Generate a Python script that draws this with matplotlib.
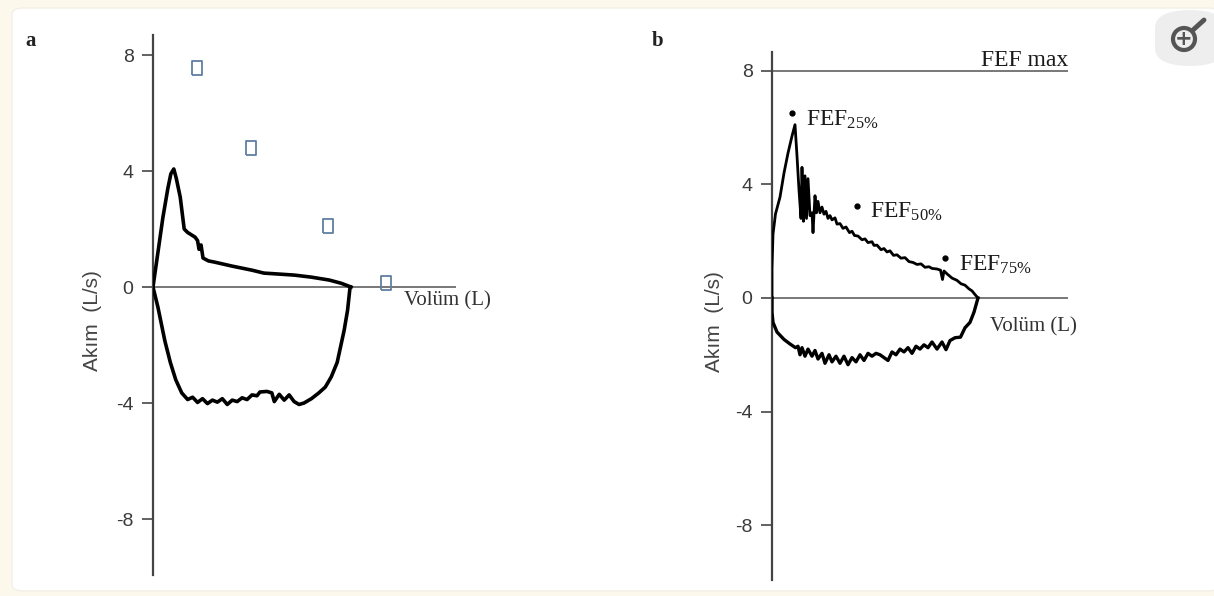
import matplotlib
matplotlib.use("Agg")
import matplotlib.pyplot as plt
from matplotlib.patches import FancyBboxPatch, Ellipse
from matplotlib.lines import Line2D

plt.rcParams['mathtext.fontset'] = 'custom'
plt.rcParams['mathtext.rm'] = 'Liberation Serif'
plt.rcParams['mathtext.it'] = 'Liberation Serif:italic'
plt.rcParams['axes.unicode_minus'] = False

# ---- data ----
y_ticks = [-8, -4, 0, 4, 8]

# panel a: expiration (upper part) and inspiration (lower part)
vol_a_exp = [0, 0.1, 0.2, 0.3, 0.36, 0.42, 0.47, 0.55, 0.63, 0.7, 0.85, 0.9,
             0.93, 0.97, 1.01, 1.12, 1.24, 1.6, 2.0, 2.24, 2.6, 2.86, 3.2,
             3.56, 3.8, 4.0]
flow_a_exp = [0, 1.2, 2.4, 3.4, 3.9, 4.07, 3.75, 3.1, 2.0, 1.88, 1.72, 1.6,
              1.3, 1.45, 1.0, 0.9, 0.86, 0.72, 0.58, 0.48, 0.44, 0.41, 0.34,
              0.24, 0.13, 0]
vol_a_insp = [0, 0.1, 0.24, 0.35, 0.46, 0.58, 0.7, 0.8, 0.9, 1.0, 1.1, 1.2,
              1.3, 1.4, 1.5, 1.6, 1.7, 1.8, 1.9, 2.0, 2.1, 2.16, 2.3, 2.4,
              2.45, 2.55, 2.65, 2.75, 2.85, 2.95, 3.05, 3.2, 3.35, 3.48, 3.6,
              3.72, 3.86, 3.93, 3.98]
flow_a_insp = [0, -0.7, -1.86, -2.6, -3.2, -3.65, -3.88, -3.8, -3.98, -3.85,
               -4.02, -3.9, -3.97, -3.85, -4.05, -3.9, -3.95, -3.82, -3.88,
               -3.72, -3.75, -3.62, -3.6, -3.65, -3.95, -3.7, -3.9, -3.72,
               -3.95, -4.05, -4.0, -3.85, -3.65, -3.45, -3.1, -2.6, -1.5,
               -0.8, 0]
# broken-image placeholders in panel a
sq_vol = [0.89, 1.98, 3.54, 4.71]
sq_flow = [7.55, 4.79, 2.1, 0.14]

# panel b
vol_b_exp = [0, 0, 0.02, 0.07, 0.16, 0.24, 0.32, 0.4, 0.46, 0.5, 0.54, 0.58,
             0.6, 0.63, 0.66, 0.69, 0.72, 0.76, 0.8, 0.82, 0.86, 0.89, 0.92,
             0.96, 1.0, 1.04, 1.08, 1.12, 1.16, 1.2, 1.26, 1.3, 1.36, 1.42,
             1.48, 1.55, 1.6, 1.65, 1.72, 1.8, 1.86, 1.92, 2.0, 2.04, 2.1,
             2.18, 2.24, 2.3, 2.36, 2.43, 2.5, 2.58, 2.66, 2.74, 2.82, 2.9,
             2.98, 3.06, 3.14, 3.2, 3.3, 3.37, 3.41, 3.44, 3.5, 3.6, 3.7,
             3.78, 3.86, 3.94, 4.0, 4.06, 4.12]
flow_b_exp = [0, 1.05, 2.25, 2.96, 3.55, 4.4, 5.1, 5.7, 6.1, 5.0, 3.8, 2.8,
              4.6, 2.7, 4.3, 2.8, 4.2, 2.9, 3.0, 2.3, 3.6, 3.0, 3.4, 3.0, 3.2,
              2.95, 3.05, 2.8, 2.9, 2.75, 2.82, 2.6, 2.62, 2.45, 2.5, 2.3,
              2.35, 2.2, 2.18, 2.05, 2.08, 1.95, 1.98, 1.85, 1.86, 1.7, 1.74,
              1.62, 1.66, 1.5, 1.52, 1.4, 1.42, 1.28, 1.25, 1.18, 1.2, 1.08,
              1.1, 1.04, 1.02, 0.98, 0.65, 0.95, 0.85, 0.7, 0.62, 0.5, 0.45,
              0.32, 0.25, 0.12, 0]
vol_b_insp = [0, 0, 0.02, 0.1, 0.24, 0.36, 0.47, 0.52, 0.56, 0.6, 0.66, 0.72,
              0.8, 0.86, 0.92, 1.0, 1.06, 1.14, 1.2, 1.28, 1.36, 1.44, 1.52,
              1.6, 1.68, 1.76, 1.84, 1.92, 2.0, 2.08, 2.16, 2.24, 2.32, 2.4,
              2.48, 2.56, 2.64, 2.72, 2.8, 2.88, 2.96, 3.04, 3.12, 3.2, 3.3,
              3.4, 3.48, 3.56, 3.66, 3.77, 3.86, 3.96, 4.04, 4.08, 4.12]
flow_b_insp = [0, -0.5, -0.86, -1.2, -1.46, -1.62, -1.75, -1.7, -2.0, -1.75,
               -2.05, -1.8, -2.05, -1.85, -2.15, -1.95, -2.3, -2.0, -2.25,
               -2.05, -2.3, -2.05, -2.35, -2.1, -2.25, -2.0, -2.2, -1.95,
               -2.05, -1.95, -2.0, -2.1, -2.2, -1.9, -2.0, -1.8, -1.9, -1.75,
               -1.95, -1.7, -1.8, -1.65, -1.75, -1.55, -1.8, -1.55, -1.82,
               -1.5, -1.4, -1.38, -1.05, -0.86, -0.5, -0.25, 0]
fef_vol = [0.4, 1.69, 3.46]
fef_flow = [6.5, 3.25, 1.4]
fef_labels = [r'FEF$_{25\%}$', r'FEF$_{50\%}$', r'FEF$_{75\%}$']
fef_max = 8

W, H = 1214, 596
fig = plt.figure(figsize=(W / 100, H / 100), dpi=100)
fig.patch.set_facecolor('#fdf8ec')


def px(x, y):
    # figure pixel position (from top-left) -> figure fraction
    return x / W, 1 - y / H


# white card behind the figure, plus the little zoom button
fig.patches.append(FancyBboxPatch(px(12, 591), (W - 6) / W, 583 / H,
                                  boxstyle='round,pad=0,rounding_size=0.01',
                                  transform=fig.transFigure, fc='white',
                                  ec='#f3efe6', lw=1, zorder=-2))
fig.patches.append(FancyBboxPatch(px(1155, 66), 70 / W, 56 / H,
                                  boxstyle='round,pad=0,rounding_size=0.03',
                                  transform=fig.transFigure, fc='#eeeeee',
                                  ec='none', zorder=-1))
fig.patches.append(Ellipse(px(1184, 39), 22 / W, 22 / H, transform=fig.transFigure,
                           fc='none', ec='#555555', lw=3, zorder=1))
fig.lines.append(Line2D([1193 / W, 1204 / W], [1 - 30 / H, 1 - 20 / H],
                        transform=fig.transFigure, color='#555555', lw=3.5,
                        solid_capstyle='round'))
fig.text(*px(1184, 39), '+', ha='center', va='center', fontsize=15,
         color='#555555', fontweight='bold', family='DejaVu Sans')


def setup(ax, xmax, ylo, yhi):
    ax.set_xlim(0, xmax)
    ax.set_ylim(ylo, yhi)
    ax.patch.set_visible(False)
    for s in ['top', 'right', 'bottom']:
        ax.spines[s].set_visible(False)
    ax.spines['left'].set_color('#444444')
    ax.spines['left'].set_linewidth(1.6)
    ax.set_xticks([])
    ax.set_yticks(y_ticks)
    ax.tick_params(axis='y', length=8, width=1.3, color='#555555', pad=6,
                   labelsize=14, labelcolor='#3a3a3a')
    for lab in ax.get_yticklabels():
        lab.set_family('Liberation Sans')
    ax.axhline(0, color='#777777', lw=1.4, zorder=1)


# ---- panel a ----
ax1 = fig.add_axes([153 / W, 21 / H, 303 / W, 540 / H])
setup(ax1, 6.12, -9.93, 8.69)
ax1.plot(vol_a_exp, flow_a_exp, color='black', lw=2.6, zorder=3)
ax1.plot(vol_a_insp, flow_a_insp, color='black', lw=2.6, zorder=3)
rect = [(-0.35, -0.5), (0.35, -0.5), (0.35, 0.5), (-0.35, 0.5), (-0.35, -0.5)]
ax1.plot(sq_vol, sq_flow, ls='none', marker=rect, markersize=10,
         mfc='none', mec='#5f7f9f', mew=1.3, zorder=4)

# ---- panel b ----
ax2 = fig.add_axes([772 / W, 16 / H, 296 / W, 528 / H])
setup(ax2, 5.92, -9.93, 8.66)
ax2.axhline(fef_max, color='#777777', lw=1.4, zorder=1)
ax2.plot(vol_b_exp, flow_b_exp, color='black', lw=2.0, zorder=3)
ax2.plot(vol_b_insp, flow_b_insp, color='black', lw=2.4, zorder=3)
ax2.plot(fef_vol, fef_flow, ls='none', marker='o', markersize=3.5,
         color='black', zorder=4)
for v, f, lab in zip(fef_vol, fef_flow, fef_labels):
    ax2.annotate(lab, (v, f), xytext=(10, -9), textcoords='offset points',
                 fontsize=17, family='Liberation Serif', color='#1a1a1a',
                 va='baseline', ha='left')
ax2.text(1.0, fef_max, 'FEF max', transform=ax2.get_yaxis_transform(),
         ha='right', va='bottom', fontsize=17, family='Liberation Serif',
         color='#1a1a1a')

# ---- text outside axes ----
fig.text(*px(25, 46), 'a', fontsize=15, fontweight='bold',
         family='Liberation Serif', color='#222222', va='baseline')
fig.text(*px(652, 46), 'b', fontsize=15, fontweight='bold',
         family='Liberation Serif', color='#222222', va='baseline')
for x, y in [(92, 321), (714, 322)]:
    fig.text(*px(x, y), 'Akım  (L/s)', rotation=90, ha='center', va='center',
             fontsize=15, family='Liberation Sans', color='#444444')
fig.text(*px(404, 301), 'Volüm (L)', ha='left', va='center', fontsize=15,
         family='Liberation Serif', color='#333333')
fig.text(*px(990, 327), 'Volüm (L)', ha='left', va='center', fontsize=15,
         family='Liberation Serif', color='#333333')

fig.savefig('out.png', dpi=100, facecolor=fig.get_facecolor())
